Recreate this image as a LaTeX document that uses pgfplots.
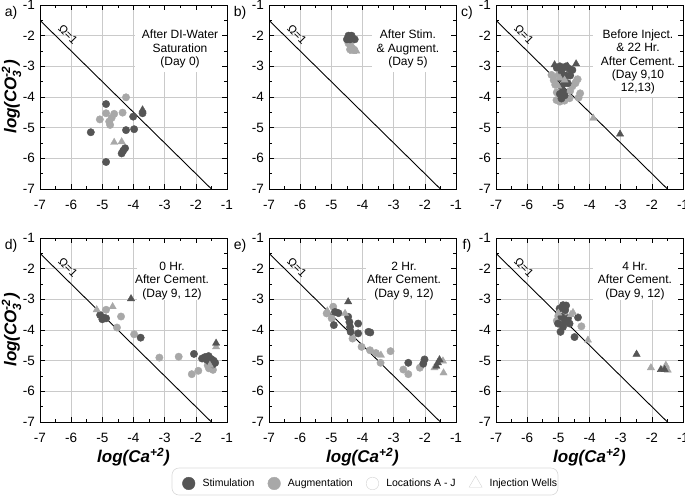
\documentclass[border=0pt]{standalone}
\usepackage{fontspec}
\setmainfont{Liberation Sans}
\usepackage{amsmath}
\usepackage{pgfplots}
\pgfplotsset{compat=1.18}
\definecolor{dk}{HTML}{555555}
\definecolor{lt}{HTML}{A8A8A8}
\definecolor{gridc}{HTML}{CACACA}

\pgfplotsset{
  layers/gridlow/.define layer set={axis background,axis grid,main,axis ticks,axis lines,axis tick labels,axis descriptions,axis foreground}{/pgfplots/layers/standard},
  panel/.style={
    set layers=gridlow,
    clip mode=individual,
    scale only axis, width=187pt, height=184pt,
    anchor=north west,
    xmin=-7, xmax=-1, ymin=-7, ymax=-1,
    xtick={-7,-6,-5,-4,-3,-2,-1}, ytick={-7,-6,-5,-4,-3,-2,-1},
    xticklabels={-7,-6,-5,-4,-3,-2,-1}, yticklabels={-7,-6,-5,-4,-3,-2,-1},
    minor tick num=1,
    grid=major, major grid style={gridc, line width=0.6pt},
    major tick length=5pt, minor tick length=3pt,
    tick style={black, line width=0.6pt},
    axis line style={line width=0.9pt},
    ticklabel style={font=\fontsize{13.5}{14}\selectfont},
    xticklabel style={yshift=-7.5pt},
    yticklabel style={xshift=-1.5pt},
  },
  stim/.style={only marks, mark=*, mark size=3.7pt, color=dk, forget plot},
  aug/.style={only marks, mark=*, mark size=3.7pt, color=lt, forget plot},
  stimw/.style={only marks, mark=triangle*, mark size=4.2pt, color=dk, forget plot},
  augw/.style={only marks, mark=triangle*, mark size=4.2pt, color=lt, forget plot},
  omega/.style={black, line width=0.9pt, forget plot},
}
\newcommand{\omegalabel}{\node[rotate=-45, font=\fontsize{11.5}{11.5}\selectfont] at (axis cs:-6.1,-1.95) {Ω=1};}
\newcommand{\panellabel}[1]{\node[font=\fontsize{14}{14}\selectfont] at (rel axis cs:0,1) [xshift=-29pt, yshift=-8pt] {#1};}
\newcommand{\ylab}{\node[xshift=-28.5pt, rotate=90, font=\fontsize{17}{17}\bfseries\itshape] at (rel axis cs:0,0.5) {log(CO$_{\text{3}}^{\text{-2}}$)};}
\newcommand{\xlab}{\node[yshift=-35pt, font=\fontsize{17}{17}\bfseries\itshape] at (rel axis cs:0.5,0) {log(Ca$^{\text{+2}}$)};}

\begin{document}
\begin{tikzpicture}

% ---------------- a) ----------------
\begin{axis}[panel, at={(40pt,-5pt)}]
\fill[white] (rel axis cs:0.508,1) rectangle (rel axis cs:1,0.636);
\addplot[omega] coordinates {(-7,-1.5) (-1.5,-7)};
\addplot[aug] coordinates {
  (-4.24,-4.01) (-4.88,-4.53) (-4.62,-4.55) (-4.35,-4.51) (-5.08,-4.73)
  (-4.78,-4.80) (-4.75,-4.91) (-4.70,-4.68)
};
\addplot[stim] coordinates {
  (-4.88,-4.23) (-3.71,-4.53) (-4.01,-4.64) (-3.98,-5.05) (-4.24,-5.08)
  (-5.37,-5.15) (-4.27,-5.67) (-4.33,-5.75) (-4.38,-5.84) (-4.88,-6.12)
};
\addplot[augw] coordinates {(-4.62,-5.48) (-4.38,-5.46)};
\addplot[stimw] coordinates {(-3.71,-4.42)};
\omegalabel
\node[font=\fontsize{12}{13.4}\selectfont, align=center, anchor=north] at (rel axis cs:0.749,1) [yshift=-21.5pt] {After DI-Water\\Saturation\\(Day 0)};
\panellabel{a)}
\ylab
\end{axis}

% ---------------- b) ----------------
\begin{axis}[panel, at={(269pt,-5pt)}]
\fill[white] (rel axis cs:0.55,1) rectangle (rel axis cs:1,0.636);
\addplot[omega] coordinates {(-7,-1.5) (-1.5,-7)};
\addplot[aug] coordinates {
  (-4.45,-2.25) (-4.38,-2.33) (-4.32,-2.42) (-4.26,-2.47) (-4.40,-2.45)
};
\addplot[augw] coordinates {(-4.20,-2.50) (-4.30,-2.52)};
\addplot[stim] coordinates {
  (-4.45,-2.00) (-4.35,-2.00) (-4.50,-2.12) (-4.40,-2.12) (-4.25,-2.12)
};
\addplot[stimw] coordinates {(-4.40,-2.03)};
\omegalabel
\node[font=\fontsize{12}{13.4}\selectfont, align=center, anchor=north] at (rel axis cs:0.743,1) [yshift=-21.5pt] {After Stim.\\\& Augment.\\(Day 5)};
\panellabel{b)}
\end{axis}

% ---------------- c) ----------------
\begin{axis}[panel, at={(496pt,-5pt)}]
\fill[white] (rel axis cs:0.52,1) rectangle (rel axis cs:1,0.50);
\addplot[omega] coordinates {(-7,-1.5) (-1.5,-7)};
\addplot[aug] coordinates {
  (-5.22,-3.28) (-5.15,-3.45) (-5.10,-3.60) (-5.05,-3.85) (-5.06,-4.10)
  (-4.95,-4.15) (-4.80,-4.12) (-4.64,-4.04) (-4.45,-3.55) (-4.38,-3.42)
  (-4.30,-3.88) (-4.35,-4.02) (-4.55,-3.65) (-4.62,-3.80)
};
\addplot[stim] coordinates {
  (-5.05,-3.05) (-4.95,-3.00) (-4.85,-3.05) (-4.75,-3.00) (-4.65,-3.08)
  (-4.55,-3.12) (-4.90,-3.20) (-4.75,-3.30) (-4.62,-3.30) (-4.90,-3.40)
  (-4.80,-3.55) (-4.90,-3.65) (-4.70,-3.55) (-4.85,-3.80) (-4.95,-3.90)
  (-4.80,-3.95) (-4.90,-4.05)
};
\addplot[augw] coordinates {
  (-5.05,-3.30) (-4.95,-3.38) (-5.01,-3.64) (-4.80,-3.45) (-4.45,-3.45)
  (-3.88,-4.69)
};
\addplot[stimw] coordinates {(-5.12,-2.95) (-4.43,-2.92) (-4.70,-3.00) (-3.02,-5.21)};
\omegalabel
\node[font=\fontsize{12}{13.4}\selectfont, align=center, anchor=north] at (rel axis cs:0.759,1) [yshift=-21pt] {Before Inject.\\\& 22 Hr.\\After Cement.\\(Day 9,10\\12,13)};
\panellabel{c)}
\end{axis}

% ---------------- d) ----------------
\begin{axis}[panel, at={(40pt,-238pt)}]
\fill[white] (rel axis cs:0.52,1) rectangle (rel axis cs:1,0.663);
\addplot[omega] coordinates {(-7,-1.5) (-1.5,-7)};
\addplot[aug] coordinates {
  (-4.88,-3.34) (-4.40,-3.56) (-4.53,-3.92) (-3.98,-4.14) (-3.17,-4.90)
  (-2.55,-4.87) (-2.13,-5.44) (-1.92,-5.33) (-1.58,-5.25) (-1.45,-5.30)
  (-1.62,-5.15)
};
\addplot[stim] coordinates {
  (-5.07,-3.51) (-4.95,-3.60) (-5.00,-3.65) (-4.88,-3.62) (-3.77,-4.25)
  (-2.06,-4.78) (-1.80,-4.93) (-1.70,-4.88) (-1.59,-4.85) (-1.50,-4.95)
  (-1.43,-5.00) (-1.38,-5.07) (-1.55,-5.05) (-1.65,-4.97) (-1.45,-5.12)
};
\addplot[augw] coordinates {(-5.18,-3.34) (-4.67,-3.24) (-1.35,-4.55) (-1.55,-5.15)};
\addplot[stimw] coordinates {(-4.08,-2.98) (-1.35,-4.43)};
\omegalabel
\node[font=\fontsize{12}{13.4}\selectfont, align=center, anchor=north] at (rel axis cs:0.706,1) [yshift=-20.5pt] {0 Hr.\\After Cement.\\(Day 9, 12)};
\panellabel{d)}
\ylab
\xlab
\end{axis}

% ---------------- e) ----------------
\begin{axis}[panel, at={(269pt,-238pt)},
  legend columns=4,
  legend style={draw=none, fill=none, at={(axis description cs:-0.480,-0.3315)}, anchor=west,
    font=\fontsize{10.5}{12}\selectfont,
    /tikz/every odd column/.append style={column sep=5.5pt},
    /tikz/every even column/.append style={column sep=11.4pt}},
]
\fill[white] (rel axis cs:0.52,1) rectangle (rel axis cs:1,0.663);
\addplot[omega] coordinates {(-7,-1.5) (-1.5,-7)};
\addplot[aug] coordinates {
  (-4.94,-3.24) (-5.15,-3.46) (-4.99,-3.62) (-4.32,-4.28) (-4.03,-4.55)
  (-3.76,-4.66) (-3.57,-4.75) (-3.42,-5.07) (-3.10,-4.69) (-2.69,-5.29)
  (-2.53,-5.44) (-2.16,-5.23)
};
\addplot[stim] coordinates {
  (-4.88,-3.41) (-4.77,-3.45) (-4.92,-3.84) (-4.46,-3.57) (-4.42,-3.74)
  (-4.40,-3.90) (-4.14,-3.79) (-4.14,-4.11) (-3.81,-4.06) (-3.75,-4.08)
  (-4.38,-4.06) (-2.53,-5.07) (-2.01,-4.96) (-2.05,-5.10)
};
\addplot[augw] coordinates {
  (-5.13,-3.38) (-4.56,-3.46) (-3.41,-4.82) (-1.69,-5.23) (-1.42,-5.01)
  (-1.40,-5.40)
};
\addplot[stimw] coordinates {(-4.46,-3.08) (-1.58,-5.07) (-1.53,-4.97) (-1.63,-5.18)};
\omegalabel
\node[font=\fontsize{12}{13.4}\selectfont, align=center, anchor=north] at (rel axis cs:0.722,1) [yshift=-20.5pt] {2 Hr.\\After Cement.\\(Day 9, 12)};
\panellabel{e)}
\xlab
\addlegendimage{only marks, mark=*, mark size=6.3pt, color=dk}
\addlegendentry{Stimulation}
\addlegendimage{only marks, mark=*, mark size=6.3pt, color=lt}
\addlegendentry{Augmentation}
\addlegendimage{only marks, mark=*, mark size=6.3pt, mark options={draw=lt!50, fill=white}}
\addlegendentry{Locations A - J}
\addlegendimage{only marks, mark=triangle, mark size=7.5pt, mark options={draw=lt!50}}
\addlegendentry{Injection Wells}
\end{axis}

% ---------------- f) ----------------
\begin{axis}[panel, at={(496pt,-238pt)}]
\fill[white] (rel axis cs:0.52,1) rectangle (rel axis cs:1,0.663);
\addplot[omega] coordinates {(-7,-1.5) (-1.5,-7)};
\addplot[aug] coordinates {(-4.26,-3.88) (-5.00,-3.55) (-5.05,-3.70) (-4.80,-3.50)};
\addplot[stim] coordinates {
  (-4.85,-3.19) (-4.96,-3.30) (-4.78,-3.35) (-4.90,-3.57) (-4.69,-3.62)
  (-5.01,-3.79) (-4.85,-3.90) (-4.93,-4.06) (-4.37,-3.59) (-4.48,-4.23)
  (-4.64,-3.79) (-4.75,-3.20) (-4.80,-3.75)
};
\addplot[augw] coordinates {
  (-4.53,-3.43) (-4.60,-3.50) (-5.00,-3.45) (-4.05,-4.33) (-2.03,-5.23)
  (-1.55,-5.15) (-1.49,-5.31)
};
\addplot[stimw] coordinates {(-2.49,-4.79) (-1.71,-5.29) (-1.59,-5.29)};
\omegalabel
\node[font=\fontsize{12}{13.4}\selectfont, align=center, anchor=north] at (rel axis cs:0.743,1) [yshift=-20.5pt] {4 Hr.\\After Cement.\\(Day 9, 12)};
\panellabel{f)}
\xlab
\end{axis}

\draw[gray!30, line width=0.6pt, rounded corners=7pt] (172pt,-468pt) rectangle (558pt,-495pt);
\pgfresetboundingbox
\path[use as bounding box] (0pt,0pt) rectangle (685pt,-496pt);
\end{tikzpicture}
\end{document}
